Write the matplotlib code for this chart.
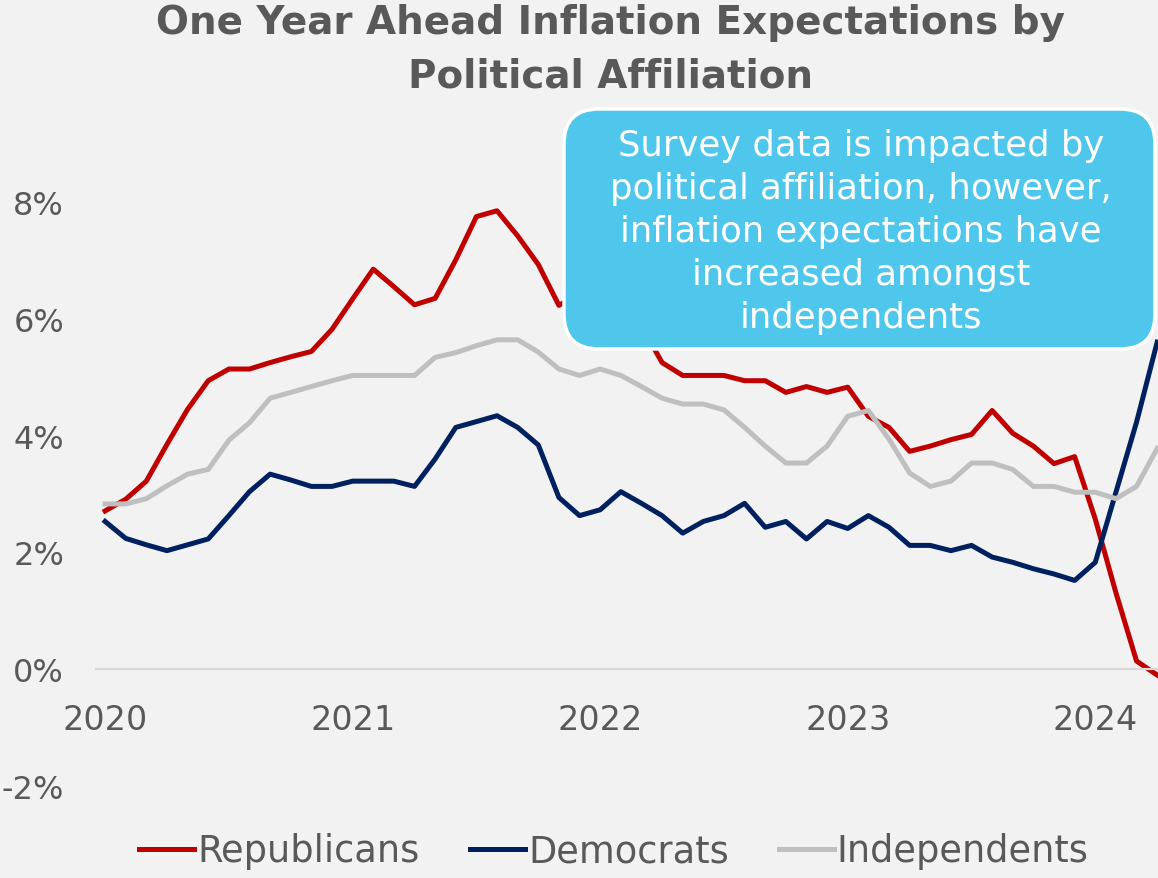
import numpy as np
import matplotlib
matplotlib.use("Agg")
import matplotlib.pyplot as plt
from matplotlib.patches import FancyBboxPatch

# monthly survey readings, Jan 2020 onwards (percent)
republicans = [2.71, 2.91, 3.22, 3.85, 4.45, 4.94, 5.14, 5.14, 5.25, 5.35, 5.44, 5.82,
               6.34, 6.85, 6.55, 6.24, 6.35, 7.01, 7.75, 7.85, 7.42, 6.93, 6.23, 6.43,
               6.55, 6.55, 5.88, 5.25, 5.03, 5.03, 5.03, 4.94, 4.94, 4.74, 4.84, 4.74,
               4.83, 4.33, 4.14, 3.73, 3.82, 3.93, 4.02, 4.43, 4.04, 3.82, 3.52, 3.64,
               2.57, 1.31, 0.14, -0.10]
democrats = [2.53, 2.24, 2.13, 2.03, 2.13, 2.23, 2.63, 3.04, 3.34, 3.24, 3.13, 3.13,
             3.22, 3.22, 3.22, 3.13, 3.60, 4.14, 4.24, 4.34, 4.14, 3.84, 2.94, 2.63,
             2.73, 3.04, 2.84, 2.63, 2.33, 2.53, 2.63, 2.84, 2.43, 2.53, 2.23, 2.53,
             2.41, 2.63, 2.43, 2.12, 2.12, 2.03, 2.12, 1.92, 1.83, 1.72, 1.63, 1.52,
             1.83, 3.03, 4.23, 5.60]
independents = [2.83, 2.83, 2.92, 3.14, 3.34, 3.42, 3.92, 4.22, 4.64, 4.74, 4.84, 4.94,
                5.03, 5.03, 5.03, 5.03, 5.34, 5.42, 5.54, 5.64, 5.64, 5.43, 5.14, 5.03,
                5.14, 5.03, 4.84, 4.64, 4.54, 4.54, 4.44, 4.14, 3.82, 3.53, 3.53, 3.82,
                4.33, 4.43, 3.94, 3.36, 3.13, 3.22, 3.53, 3.53, 3.42, 3.13, 3.13, 3.03,
                3.03, 2.92, 3.13, 3.78]
year_labels = ["2020", "2021", "2022", "2023", "2024"]
y_ticks = [-2, 0, 2, 4, 6, 8]

bg = "#F2F2F2"
txt = "#595959"
font = "DejaVu Sans"
plt.rcParams["font.family"] = [font]

fig = plt.figure(figsize=(11.58, 8.79), dpi=100, facecolor=bg)
ax = fig.add_axes([96 / 1158, 1 - 787 / 879, 1 - 96 / 1158, (787 - 203) / 879])
ax.set_facecolor(bg)

months = np.arange(len(republicans))
ax.plot(months, republicans, color="#C00000", lw=3.6, label="Republicans")
ax.plot(months, democrats, color="#002060", lw=3.6, label="Democrats")
ax.plot(months, independents, color="#BFBFBF", lw=3.6, label="Independents")

ax.set_xlim(-0.44, 51.04)
ax.set_ylim(-2, 8)
ax.set_xticks(np.arange(0, 12 * len(year_labels), 12))
ax.set_xticklabels(year_labels)
ax.set_yticks(y_ticks)
ax.set_yticklabels([f"{v}%" for v in y_ticks])

for s in ["top", "right", "left"]:
    ax.spines[s].set_visible(False)
ax.spines["bottom"].set_position(("data", 0))
ax.spines["bottom"].set_color("#D9D9D9")
ax.spines["bottom"].set_linewidth(1.6)
ax.tick_params(axis="x", length=0, pad=24, labelsize=24, labelcolor=txt)
ax.tick_params(axis="y", length=0, pad=23, labelsize=23, labelcolor=txt)

fig.text(610 / 1158, 1 - 49.5 / 879, "One Year Ahead Inflation Expectations by\nPolitical Affiliation",
         ha="center", va="center", fontsize=28, fontweight="bold", color=txt, linespacing=1.52)

# callout box, drawn in inches so the corners stay round
box = FancyBboxPatch((5.64 + 0.35, 5.29 + 0.35), 11.55 - 5.64 - 0.7, 7.69 - 5.29 - 0.7,
                     boxstyle="round,pad=0.35", transform=fig.dpi_scale_trans,
                     facecolor="#4FC6EB", edgecolor="white", linewidth=2.5, zorder=3)
fig.add_artist(box)
fig.text(861 / 1158, 1 - 232 / 879,
         "Survey data is impacted by\npolitical affiliation, however,\ninflation expectations have\nincreased amongst\nindependents",
         ha="center", va="center", fontsize=25.5, color="white", linespacing=1.33, zorder=4)

fig.legend(loc="center", bbox_to_anchor=(614 / 1158, 1 - 852 / 879), ncol=3, frameon=False,
           fontsize=26.5, labelcolor=txt, handlelength=1.5, handletextpad=0.08, columnspacing=1.36)

fig.savefig("out.png", dpi=100, facecolor=bg)
